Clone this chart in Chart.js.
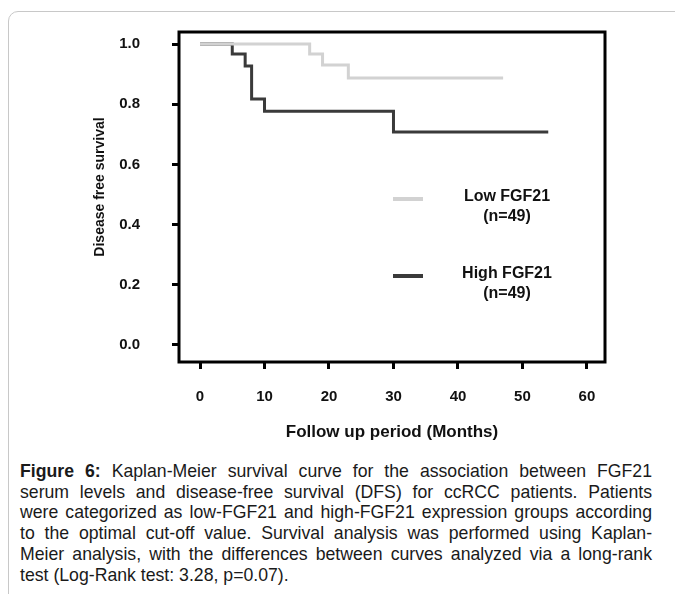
<!DOCTYPE html>
<html>
<head>
<meta charset="utf-8">
<script src="https://cdn.jsdelivr.net/npm/chart.js@4.4.1/dist/chart.umd.min.js"></script>
<style>
  body { margin:0; background:#fff; width:675px; height:594px; overflow:hidden; position:relative; font-family:"Liberation Sans", Arial, sans-serif; }
  .frame { position:absolute; left:8px; top:11px; width:720px; height:640px; border:1px solid #c8c8c8; border-radius:10px; }
  #chart { position:absolute; left:0; top:0; }
  .caption { position:absolute; left:20px; top:461px; width:679.6px; font-size:19px; line-height:20.7px; color:#1a1a1a;
             transform:scaleX(0.93); transform-origin:left top; }
  .caption div { text-align:justify; text-align-last:justify; white-space:nowrap; }
  .caption div.last { text-align-last:left; }
</style>
</head>
<body>
<div class="frame"></div>
<canvas id="chart" width="675" height="455"></canvas>
<div class="caption">
  <div><b>Figure 6:</b> Kaplan-Meier survival curve for the association between FGF21</div>
  <div>serum levels and disease-free survival (DFS) for ccRCC patients. Patients</div>
  <div>were categorized as low-FGF21 and high-FGF21 expression groups according</div>
  <div>to the optimal cut-off value. Survival analysis was performed using Kaplan-</div>
  <div>Meier analysis, with the differences between curves analyzed via a long-rank</div>
  <div class="last">test (Log-Rank test: 3.28, p=0.07).</div>
</div>
<script>
// ---- data ----
const xTicks = [0, 10, 20, 30, 40, 50, 60];
const yTicks = [0, 0.2, 0.4, 0.6, 0.8, 1.0];

const lowTimes = [0, 17, 19, 23, 47];
const lowSurv  = [1, 0.967, 0.93, 0.887, 0.887];

const highTimes = [0, 5, 7, 8, 10, 30, 54];
const highSurv  = [1, 0.967, 0.927, 0.817, 0.777, 0.708, 0.708];

const seriesLabels = ['Low FGF21', 'High FGF21'];
const seriesN = [49, 49];

// axis ranges (box goes a bit past the ticks)
const xMin = -3.26, xMax = 62.8;
const yMin = -0.0565, yMax = 1.04;

const lowColor = '#d2d2d2';
const highColor = '#3a3a3a';
const fontFam = '"Liberation Sans", Arial, sans-serif';

const toPoints = (t, s) => t.map((v, i) => ({ x: v, y: s[i] }));

const boxPlugin = {
    id: 'boxPlugin',
    afterDatasetsDraw(chart) {
        const { ctx, chartArea: a } = chart;
        ctx.save();
        ctx.strokeStyle = '#000';
        ctx.lineWidth = 3;
        ctx.strokeRect(a.left, a.top, a.right - a.left, a.bottom - a.top);

        // legend inside the box
        const colors = [lowColor, highColor];
        const rowsY = [167, 244];
        ctx.font = 'bold 16px ' + fontFam;
        ctx.fillStyle = '#111';
        ctx.textAlign = 'center';
        ctx.textBaseline = 'middle';
        seriesLabels.forEach((lbl, i) => {
            const y = a.top + rowsY[i];
            ctx.strokeStyle = colors[i];
            ctx.lineWidth = 4;
            ctx.beginPath();
            ctx.moveTo(a.left + 214, y);
            ctx.lineTo(a.left + 244, y);
            ctx.stroke();
            ctx.fillText(lbl, a.left + 328, y - 2);
            ctx.fillText('(n=' + seriesN[i] + ')', a.left + 328, y + 18);
        });

        // y axis title
        ctx.font = 'bold 14px ' + fontFam;
        ctx.translate(100, a.top + 155);
        ctx.rotate(-Math.PI / 2);
        ctx.fillText('Disease free survival', 0, 0);
        ctx.restore();
    }
};

const tickFont = { family: fontFam, size: 15, weight: 'bold' };

new Chart(document.getElementById('chart'), {
    type: 'line',
    data: {
        datasets: [
            { label: seriesLabels[0], data: toPoints(lowTimes, lowSurv), borderColor: lowColor, borderWidth: 3, stepped: true, pointRadius: 0, fill: false },
            { label: seriesLabels[1], data: toPoints(highTimes, highSurv), borderColor: highColor, borderWidth: 3, stepped: true, pointRadius: 0, fill: false }
        ]
    },
    options: {
        responsive: false,
        animation: false,
        devicePixelRatio: 1,
        layout: { padding: { top: 32, right: 70, left: 0, bottom: 0 } },
        plugins: { legend: { display: false }, tooltip: { enabled: false } },
        scales: {
            x: {
                type: 'linear',
                min: xMin, max: xMax,
                afterBuildTicks: s => { s.ticks = xTicks.map(v => ({ value: v })); },
                afterFit: s => { s.height = 93; s.paddingLeft = 0; s.paddingRight = 0; },
                border: { display: false },
                grid: { drawOnChartArea: false, drawTicks: true, tickLength: 7, lineWidth: 3, color: '#000' },
                ticks: { font: tickFont, color: '#111', padding: 19, callback: v => v },
                title: { display: true, text: 'Follow up period (Months)', color: '#111',
                         font: { family: fontFam, size: 17, weight: 'bold' },
                         padding: { top: 0, bottom: 12 } }
            },
            y: {
                min: yMin, max: yMax,
                afterBuildTicks: s => { s.ticks = yTicks.map(v => ({ value: v })); },
                afterFit: s => { s.width = 179; s.paddingTop = 0; s.paddingBottom = 0; },
                border: { display: false },
                grid: { drawOnChartArea: false, drawTicks: true, tickLength: 7, lineWidth: 3, color: '#000' },
                ticks: { font: tickFont, color: '#111', padding: 32, callback: v => Number(v).toFixed(1) }
            }
        }
    },
    plugins: [boxPlugin]
});
</script>
</body>
</html>
